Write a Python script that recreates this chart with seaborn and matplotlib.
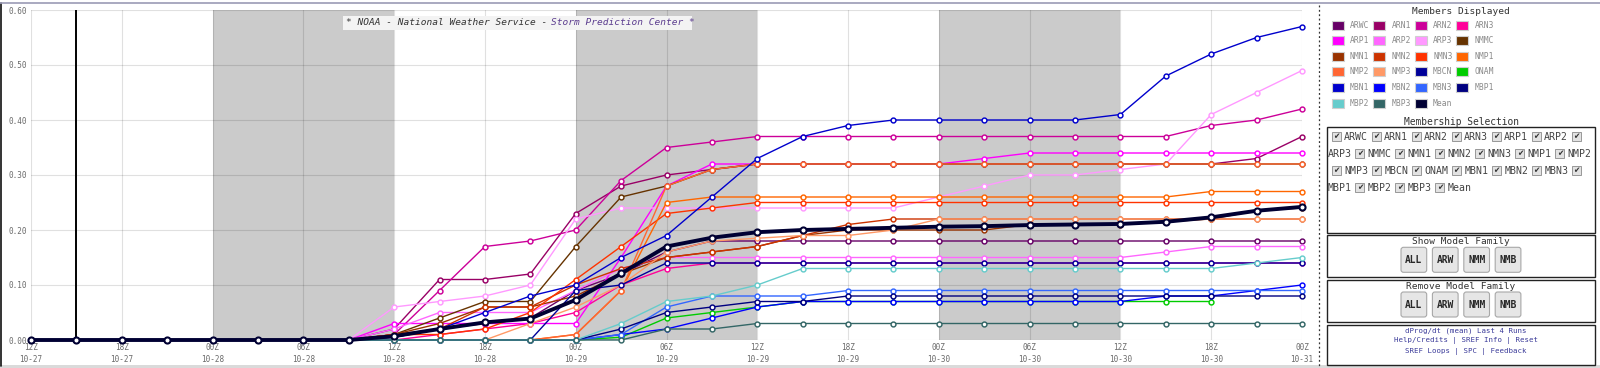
import pandas as pd
import matplotlib.pyplot as plt
from matplotlib.patches import Rectangle, FancyBboxPatch
import seaborn as sns

W, H = 1600, 368

# forecast hour, 3-hourly from 12Z 10-27
fhours = [0, 3, 6, 9, 12, 15, 18, 21, 24, 27, 30, 33, 36, 39, 42, 45, 48,
          51, 54, 57, 60, 63, 66, 69, 72, 75, 78, 81, 84]
tick_hours = [0, 6, 12, 18, 24, 30, 36, 42, 48, 54, 60, 66, 72, 78, 84]
tick_labels = ['12Z\n10-27', '18Z\n10-27', '00Z\n10-28', '06Z\n10-28', '12Z\n10-28',
               '18Z\n10-28', '00Z\n10-29', '06Z\n10-29', '12Z\n10-29', '18Z\n10-29',
               '00Z\n10-30', '06Z\n10-30', '12Z\n10-30', '18Z\n10-30', '00Z\n10-31']
y_ticks = [0.0, 0.1, 0.2, 0.3, 0.4, 0.5, 0.6]
night_spans = [(12, 24), (36, 48), (60, 72)]
now_hour = 3

nan = float('nan')

# member probabilities (hours 0-21 / 24-54 / 57-84)
arwc = [0, 0, 0, 0, 0, 0, 0, 0,
        0.005, 0.02, 0.03, 0.04, 0.09, 0.12, 0.16, 0.18, 0.18, 0.18, 0.18,
        0.18, 0.18, 0.18, 0.18, 0.18, 0.18, 0.18, 0.18, 0.18, 0.18]
arn1 = [0, 0, 0, 0, 0, 0, 0, 0,
        0.02, 0.11, 0.11, 0.12, 0.23, 0.28, 0.30, 0.31, 0.32, 0.32, 0.32,
        0.32, 0.32, 0.32, 0.32, 0.32, 0.32, 0.32, 0.32, 0.33, 0.37]
arn2 = [0, 0, 0, 0, 0, 0, 0, 0,
        0.01, 0.09, 0.17, 0.18, 0.20, 0.29, 0.35, 0.36, 0.37, 0.37, 0.37,
        0.37, 0.37, 0.37, 0.37, 0.37, 0.37, 0.37, 0.39, 0.40, 0.42]
arn3 = [0, 0, 0, 0, 0, 0, 0, 0,
        0, 0.01, 0.02, 0.03, 0.05, 0.10, 0.13, 0.14, 0.14, 0.14, 0.14,
        0.14, 0.14, 0.14, 0.14, 0.14, 0.14, 0.14, 0.14, 0.14, 0.14]
arp1 = [0, 0, 0, 0, 0, 0, 0, 0,
        0.03, 0.03, 0.03, 0.03, 0.03, 0.15, 0.28, 0.32, 0.32, 0.32, 0.32,
        0.32, 0.32, 0.33, 0.34, 0.34, 0.34, 0.34, 0.34, 0.34, 0.34]
arp2 = [0, 0, 0, 0, 0, 0, 0, 0,
        0.02, 0.05, 0.05, 0.05, 0.09, 0.13, 0.15, 0.15, 0.15, 0.15, 0.15,
        0.15, 0.15, 0.15, 0.15, 0.15, 0.15, 0.16, 0.17, 0.17, 0.17]
arp3 = [0, 0, 0, 0, 0, 0, 0, 0,
        0.06, 0.07, 0.08, 0.10, 0.22, 0.24, 0.24, 0.24, 0.24, 0.24, 0.24,
        0.24, 0.26, 0.28, 0.30, 0.30, 0.31, 0.32, 0.41, 0.45, 0.49]
nmmc = [0, 0, 0, 0, 0, 0, 0, 0,
        0.01, 0.04, 0.07, 0.07, 0.17, 0.26, 0.28, 0.31, 0.32, 0.32, 0.32,
        0.32, 0.32, 0.32, 0.32, 0.32, 0.32, 0.32, 0.32, 0.32, 0.32]
nmn1 = [0, 0, 0, 0, 0, 0, 0, 0,
        0.01, 0.03, 0.06, 0.06, 0.08, 0.12, 0.15, 0.16, 0.17, 0.19, 0.20,
        0.20, 0.20, 0.20, 0.21, 0.21, 0.21, 0.215, 0.22, 0.235, 0.24]
nmn2 = [0, 0, 0, 0, 0, 0, 0, 0,
        0.01, 0.02, 0.06, 0.06, 0.10, 0.13, 0.15, 0.16, 0.17, 0.19, 0.21,
        0.22, 0.22, 0.22, 0.22, 0.22, 0.22, 0.22, 0.22, 0.22, 0.22]
nmn3 = [0, 0, 0, 0, 0, 0, 0, 0,
        0.01, 0.01, 0.02, 0.05, 0.11, 0.17, 0.23, 0.24, 0.25, 0.25, 0.25,
        0.25, 0.25, 0.25, 0.25, 0.25, 0.25, 0.25, 0.25, 0.25, 0.25]
nmp1 = [0, 0, 0, 0, 0, 0, 0, 0,
        0, 0, 0, 0, 0.01, 0.09, 0.25, 0.26, 0.26, 0.26, 0.26,
        0.26, 0.26, 0.26, 0.26, 0.26, 0.26, 0.26, 0.27, 0.27, 0.27]
nmp2 = [0, 0, 0, 0, 0, 0, 0, 0,
        0, 0, 0, 0, 0.01, 0.09, 0.28, 0.31, 0.32, 0.32, 0.32,
        0.32, 0.32, 0.32, 0.32, 0.32, 0.32, 0.32, 0.32, 0.32, 0.32]
nmp3 = [0, 0, 0, 0, 0, 0, 0, 0,
        0, 0, 0, 0.03, 0.06, 0.10, 0.16, 0.18, 0.185, 0.19, 0.19,
        0.20, 0.22, 0.22, 0.22, 0.22, 0.22, 0.22, 0.22, 0.22, 0.22]
mbcn = [0, 0, 0, 0, 0, 0, 0, 0,
        0, 0, 0, 0, 0.09, 0.10, 0.14, 0.14, 0.14, 0.14, 0.14,
        0.14, 0.14, 0.14, 0.14, 0.14, 0.14, 0.14, 0.14, 0.14, 0.14]
onam = [0, 0, 0, 0, 0, 0, 0, 0,
        0, 0, 0, 0, 0, 0.005, 0.04, 0.05, 0.06, 0.07, 0.07,
        0.07, 0.07, 0.07, 0.07, 0.07, 0.07, 0.07, 0.07, nan, nan]
mbn1 = [0, 0, 0, 0, 0, 0, 0, 0,
        0.005, 0.02, 0.05, 0.08, 0.10, 0.15, 0.19, 0.26, 0.33, 0.37, 0.39,
        0.40, 0.40, 0.40, 0.40, 0.40, 0.41, 0.48, 0.52, 0.55, 0.57]
mbn2 = [0, 0, 0, 0, 0, 0, 0, 0,
        0, 0, 0, 0, 0, 0.01, 0.02, 0.04, 0.06, 0.07, 0.07,
        0.07, 0.07, 0.07, 0.07, 0.07, 0.07, 0.08, 0.08, 0.09, 0.10]
mbn3 = [0, 0, 0, 0, 0, 0, 0, 0,
        0, 0, 0, 0, 0, 0.01, 0.06, 0.08, 0.08, 0.08, 0.09,
        0.09, 0.09, 0.09, 0.09, 0.09, 0.09, 0.09, 0.09, 0.09, 0.09]
mbp1 = [0, 0, 0, 0, 0, 0, 0, 0,
        0, 0, 0, 0, 0, 0.02, 0.05, 0.06, 0.07, 0.07, 0.08,
        0.08, 0.08, 0.08, 0.08, 0.08, 0.08, 0.08, 0.08, 0.08, 0.08]
mbp2 = [0, 0, 0, 0, 0, 0, 0, 0,
        0, 0, 0, 0, 0, 0.03, 0.07, 0.08, 0.10, 0.13, 0.13,
        0.13, 0.13, 0.13, 0.13, 0.13, 0.13, 0.13, 0.13, 0.14, 0.15]
mbp3 = [0, 0, 0, 0, 0, 0, 0, 0,
        0, 0, 0, 0, 0, 0, 0.02, 0.02, 0.03, 0.03, 0.03,
        0.03, 0.03, 0.03, 0.03, 0.03, 0.03, 0.03, 0.03, 0.03, 0.03]
mean = [0, 0, 0, 0, 0, 0, 0, 0,
        0.007, 0.02, 0.032, 0.039, 0.073, 0.121, 0.17, 0.186, 0.196, 0.20, 0.202,
        0.204, 0.206, 0.207, 0.209, 0.21, 0.211, 0.215, 0.223, 0.235, 0.242]

members = ['ARWC', 'ARN1', 'ARN2', 'ARN3', 'ARP1', 'ARP2', 'ARP3', 'NMMC',
           'NMN1', 'NMN2', 'NMN3', 'NMP1', 'NMP2', 'NMP3', 'MBCN', 'ONAM',
           'MBN1', 'MBN2', 'MBN3', 'MBP1', 'MBP2', 'MBP3', 'Mean']
member_colors = ['#660066', '#990066', '#cc0099', '#ff0099', '#ff00ff', '#ff66ff',
                 '#ff99ff', '#663300', '#993300', '#cc3300', '#ff3300', '#ff6600',
                 '#ff6633', '#ff9966', '#000099', '#00cc00', '#0000cc', '#0000ff',
                 '#3366ff', '#000080', '#66cccc', '#336666', '#000033']
member_values = [arwc, arn1, arn2, arn3, arp1, arp2, arp3, nmmc, nmn1, nmn2, nmn3,
                 nmp1, nmp2, nmp3, mbcn, onam, mbn1, mbn2, mbn3, mbp1, mbp2, mbp3, mean]

family_buttons = ['ALL', 'ARW', 'NMM', 'NMB']


def draw_chart(fig, df):
    ax = fig.add_axes([31 / W, 1 - 340 / H, 1271 / W, 330 / H])

    # night-time shading
    for t0, t1 in night_spans:
        ax.axvspan(t0, t1, color='#cbcbcb', lw=0, zorder=0)

    for name, color in zip(members, member_colors):
        sub = df[df['member'] == name]
        is_mean = name == 'Mean'
        sns.lineplot(data=sub, x='fhour', y='prob', ax=ax, color=color,
                     lw=2.8 if is_mean else 1.0, marker='o',
                     ms=4.4 if is_mean else 3.5, mfc='white', mec=color,
                     mew=1.5 if is_mean else 1.05, errorbar=None,
                     clip_on=False, zorder=5 if is_mean else 3)

    ax.axvline(now_hour, color='black', lw=1.4, zorder=4)

    ax.set_xlim(0, 84)
    ax.set_ylim(0, 0.6)
    ax.set_xticks(tick_hours, tick_labels)
    ax.set_yticks(y_ticks, [f'{v:.2f}' for v in y_ticks])
    ax.tick_params(length=0, labelsize=5.5, labelcolor='#6a6a6a')
    ax.tick_params(axis='x', pad=2.5)
    ax.tick_params(axis='y', pad=3)
    for lbl in ax.get_xticklabels():
        lbl.set_linespacing(1.35)
    ax.grid(True, color='black', alpha=0.12, lw=0.8)
    ax.set_axisbelow(True)
    sns.despine(ax=ax, left=True, bottom=True)
    ax.set_xlabel('')
    ax.set_ylabel('')
    return ax


def draw_panel(fig):
    # overlay axes in pixel units, origin top-left
    ov = fig.add_axes([0, 0, 1, 1])
    ov.set_xlim(0, W)
    ov.set_ylim(H, 0)
    ov.axis('off')

    # page frame
    ov.plot([0.8, 0.8], [3, 366], color='#111111', lw=1.2)
    ov.plot([0, W], [3.3, 3.3], color='#9b9bb5', lw=1.2)
    ov.add_patch(Rectangle((0, 364.5), W, 3.5, color='#dadada', lw=0))
    ov.plot([1319, 1319], [5, 366], color='#333333', lw=0.9, ls=(0, (1.5, 2.0)))

    # banner
    fs = 6.8
    charw = fs * 100 / 72 * 0.6021
    part1 = '* NOAA - National Weather Service - '
    part2 = 'Storm Prediction Center *'
    ov.add_patch(Rectangle((343, 16), 349, 13.5, color='#f3f3f3', lw=0))
    ov.text(346, 22.8, part1, fontsize=fs, style='italic', color='#333333',
            ha='left', va='center')
    ov.text(346 + charw * len(part1), 22.8, part2, fontsize=fs, style='italic',
            color='#5c3d8f', ha='left', va='center')

    # members displayed
    ov.text(1461, 11.7, 'Members Displayed', fontsize=6.8, color='#333333',
            ha='center', va='center')
    for k, (name, color) in enumerate(zip(members, member_colors)):
        sx = 1331.7 + (k % 4) * 41.5
        sy = 25 + (k // 4) * 15.6
        ov.add_patch(Rectangle((sx, sy - 4.5), 12, 9, facecolor=color,
                               edgecolor='#cfcfcf', lw=0.8))
        ov.text(sx + 18.3, sy, name, fontsize=5.8, color='#8a8a8a',
                ha='left', va='center')

    # membership selection
    ov.text(1461, 122, 'Membership Selection', fontsize=6.9, color='#333333',
            ha='center', va='center')
    ov.add_patch(Rectangle((1326.5, 127), 268.8, 105.7, facecolor='white',
                           edgecolor='#222222', lw=1))
    x, y = 1331.7, 136.7
    for name in members:
        if x + 9 > 1592:
            x, y = 1331.7, y + 17
        ov.add_patch(Rectangle((x, y - 4.5), 9, 9, facecolor='#e2e2e2',
                               edgecolor='#8a8a8a', lw=0.6))
        ov.text(x + 4.7, y, '\u2714', fontsize=5.5, color='#333333',
                family='DejaVu Sans', ha='center', va='center')
        x += 12.5
        if x + 22 > 1592:
            x, y = 1327.7, y + 17
        ov.text(x, y + 0.5, name, fontsize=7.1, color='#444444',
                ha='left', va='center')
        x += 27.5

    # model family boxes
    for top, title in [(235.3, 'Show Model Family'), (280, 'Remove Model Family')]:
        ov.add_patch(Rectangle((1326.7, top), 268.6, 42, facecolor='white',
                               edgecolor='#222222', lw=1))
        ov.text(1461, top + 6.4, title, fontsize=6.8, color='#333333',
                ha='center', va='center')
        for j, lab in enumerate(family_buttons):
            bx = 1401 + j * 31.4
            ov.add_patch(FancyBboxPatch((bx, top + 12), 25.7, 25,
                                        boxstyle='round,pad=0,rounding_size=2.5',
                                        facecolor='#e6e6e6', edgecolor='#a8a8a8', lw=0.8))
            ov.text(bx + 12.85, top + 24.7, lab, fontsize=6.9, weight='bold',
                    color='#2a2a2a', ha='center', va='center')

    # links box
    ov.add_patch(Rectangle((1326.7, 325.3), 268.6, 39.4, facecolor='white',
                           edgecolor='#222222', lw=1))
    for ly, line in [(330.7, 'dProg/dt (mean) Last 4 Runs'),
                     (341, 'Help/Credits | SREF Info | Reset'),
                     (351.7, 'SREF Loops | SPC | Feedback')]:
        ov.text(1465.8, ly, line, fontsize=5.3, color='#3a3a99',
                ha='center', va='center')


def main():
    sns.set_style('white')
    plt.rcParams['font.family'] = ['DejaVu Sans Mono', 'DejaVu Sans']

    wide = pd.DataFrame(dict(zip(members, member_values)))
    wide['fhour'] = fhours
    df = wide.melt(id_vars='fhour', var_name='member', value_name='prob')

    fig = plt.figure(figsize=(16, 3.68), dpi=100)
    draw_chart(fig, df)
    draw_panel(fig)
    fig.savefig('out.png', dpi=100, facecolor='white')


if __name__ == '__main__':
    main()
